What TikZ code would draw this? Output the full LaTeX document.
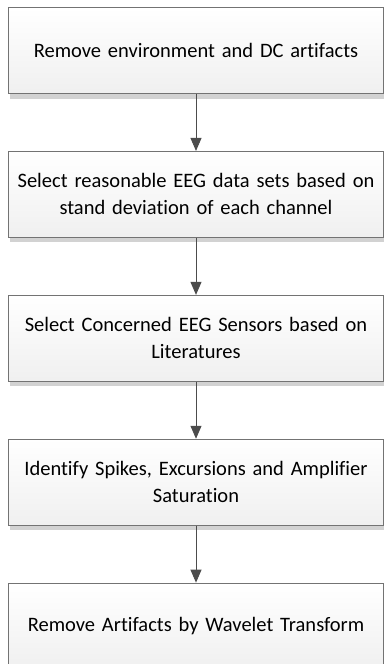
\documentclass[tikz,border=0pt]{standalone}
\usepackage{fontspec}
\setmainfont[Ligatures=NoCommon,WordSpace=0.8]{Carlito}
\usetikzlibrary{positioning,arrows.meta,shadows}
\begin{document}
\begin{tikzpicture}[x=1pt,y=1pt,
	every node/.style={rectangle,draw=black!55,line width=0.9pt,
		top color=white,bottom color=black!6,
		minimum width=374pt,minimum height=86pt,text width=368pt,align=center,
		font=\fontsize{20.5}{27}\selectfont,
		drop shadow={shadow xshift=1pt,shadow yshift=-5pt,fill=black!22,opacity=0.8}},
	flow/.style={-{Triangle[width=11pt,length=13pt]},draw=black!70,fill=black!70,line width=0.9pt},
	node distance=57pt]
\useasboundingbox (0,0) rectangle (388,-664);
\node (environment) at (196,-50.5) {Remove environment and DC artifacts};
\node[below=of environment] (datasets) {Select reasonable EEG data sets based on\\ stand deviation of each channel};
\node[below=of datasets] (sensors) {Select Concerned EEG Sensors based on\\ Literatures};
\node[below=of sensors] (spikes) {Identify Spikes, Excursions and Amplifier\\ Saturation};
\node[below=of spikes] (wavelet) {Remove Artifacts by Wavelet Transform};
% arrows between the steps
\draw[flow] (environment) -- (datasets);
\draw[flow] (datasets) -- (sensors);
\draw[flow] (sensors) -- (spikes);
\draw[flow] (spikes) -- (wavelet);
\end{tikzpicture}
\end{document}
